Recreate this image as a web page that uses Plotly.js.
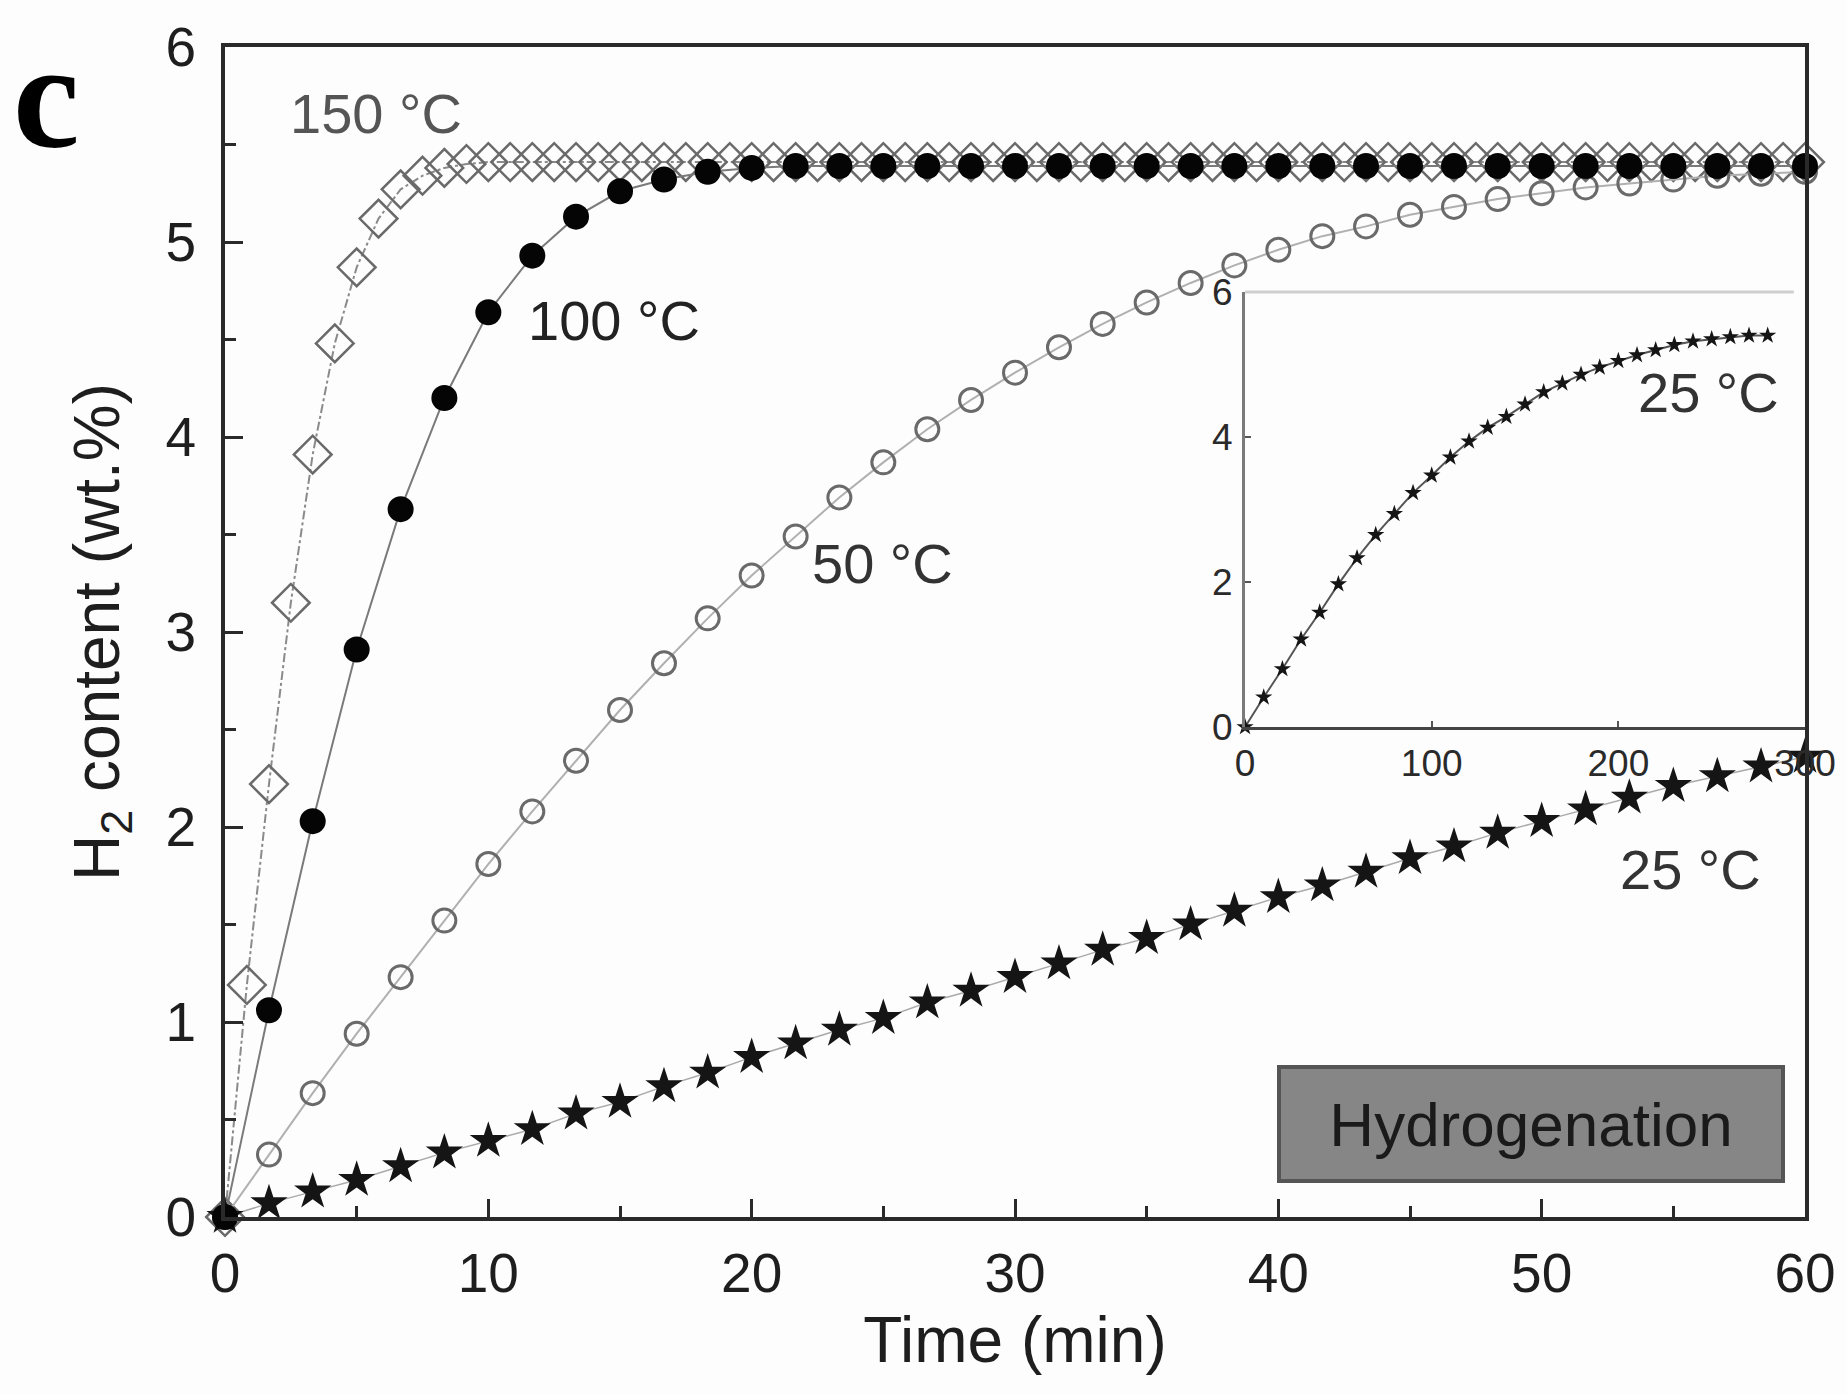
<!DOCTYPE html>
<html>
<head>
<meta charset="utf-8">
<script src="https://cdn.plot.ly/plotly-3.0.1.min.js"></script>
<style>html,body{margin:0;padding:0;background:#fdfdfd;}</style>
</head>
<body>
<div id="chart" style="width:1847px;height:1394px;"></div>
<script>
// Time axis (min) for the 150 °C run (sampled every ~50 s)
const time150 = [0,0.83,1.67,2.5,3.33,4.17,5,5.83,6.67,7.5,8.33,9.17,10,10.83,11.67,12.5,13.33,14.17,15,15.83,16.67,17.5,18.33,19.17,20,20.83,21.67,22.5,23.33,24.17,25,25.83,26.67,27.5,28.33,29.17,30,30.83,31.67,32.5,33.33,34.17,35,35.83,36.67,37.5,38.33,39.17,40,40.83,41.67,42.5,43.33,44.17,45,45.83,46.67,47.5,48.33,49.17,50,50.83,51.67,52.5,53.33,54.17,55,55.83,56.67,57.5,58.33,59.17,60];
const h2_150C = [0,1.19,2.22,3.15,3.91,4.48,4.87,5.12,5.27,5.34,5.38,5.40,5.41,5.41,5.41,5.41,5.41,5.41,5.41,5.41,5.41,5.41,5.41,5.41,5.41,5.41,5.41,5.41,5.41,5.41,5.41,5.41,5.41,5.41,5.41,5.41,5.41,5.41,5.41,5.41,5.41,5.41,5.41,5.41,5.41,5.41,5.41,5.41,5.41,5.41,5.41,5.41,5.41,5.41,5.41,5.41,5.41,5.41,5.41,5.41,5.41,5.41,5.41,5.41,5.41,5.41,5.41,5.41,5.41,5.41,5.41,5.41,5.41];

// Time axis (min) for the 100, 50 and 25 °C runs (sampled every ~100 s)
const timeMain = [0,1.67,3.33,5,6.67,8.33,10,11.67,13.33,15,16.67,18.33,20,21.67,23.33,25,26.67,28.33,30,31.67,33.33,35,36.67,38.33,40,41.67,43.33,45,46.67,48.33,50,51.67,53.33,55,56.67,58.33,60];
const h2_100C = [0,1.06,2.03,2.91,3.63,4.20,4.64,4.93,5.13,5.26,5.32,5.36,5.38,5.39,5.39,5.39,5.39,5.39,5.39,5.39,5.39,5.39,5.39,5.39,5.39,5.39,5.39,5.39,5.39,5.39,5.39,5.39,5.39,5.39,5.39,5.39,5.39];
const h2_50C = [0,0.32,0.635,0.94,1.23,1.52,1.81,2.08,2.34,2.60,2.84,3.07,3.29,3.49,3.69,3.87,4.04,4.19,4.33,4.46,4.58,4.69,4.79,4.88,4.96,5.03,5.08,5.14,5.18,5.22,5.25,5.28,5.30,5.32,5.34,5.35,5.36];
const h2_25C = [0,0.07,0.13,0.19,0.26,0.33,0.39,0.45,0.53,0.59,0.67,0.74,0.82,0.89,0.96,1.02,1.10,1.16,1.23,1.30,1.37,1.43,1.50,1.57,1.64,1.70,1.77,1.84,1.90,1.97,2.03,2.09,2.15,2.21,2.26,2.31,2.36];

// Inset: 25 °C over 300 min
const timeInset = [0,10,20,30,40,50,60,70,80,90,100,110,120,130,140,150,160,170,180,190,200,210,220,230,240,250,260,270,280];
const h2_25C_long = [0,0.41,0.80,1.21,1.58,1.97,2.33,2.65,2.94,3.23,3.47,3.72,3.94,4.13,4.28,4.45,4.62,4.74,4.86,4.96,5.05,5.13,5.20,5.27,5.32,5.35,5.38,5.40,5.40];

// Text
const curveLabels = ['150 °C','100 °C','50 °C','25 °C'];
const xTitle = 'Time (min)';
const yTitle = 'H<sub>2</sub> content (wt.%)';
const panelLabel = 'c';
const boxLabel = 'Hydrogenation';

const FONT = 'Liberation Sans, Arial, Helvetica, sans-serif';
const AX = '#2a2a2a';

const traces = [
  {x: time150, y: h2_150C, type:'scatter', mode:'lines+markers', cliponaxis:false,
   line:{color:'#8a8a8a', width:2, dash:'dashdot'},
   marker:{symbol:'diamond-open', size:29, color:'#6a6a6a', line:{width:2.5, color:'#6a6a6a'}}},
  {x: timeMain, y: h2_50C, type:'scatter', mode:'lines+markers', cliponaxis:false,
   line:{color:'#b0b0b0', width:2},
   marker:{symbol:'circle-open', size:23, color:'#6a6a6a', line:{width:3, color:'#6a6a6a'}}},
  {x: timeMain, y: h2_25C, type:'scatter', mode:'lines+markers', cliponaxis:false,
   line:{color:'#aaaaaa', width:1.5},
   marker:{symbol:'star', size:28, color:'#151515', line:{width:0}}},
  {x: timeMain, y: h2_100C, type:'scatter', mode:'lines+markers', cliponaxis:false,
   line:{color:'#7a7a7a', width:2},
   marker:{symbol:'circle', size:26, color:'#050505', line:{width:0}}},
  {x: timeInset, y: h2_25C_long, xaxis:'x2', yaxis:'y2', type:'scatter', mode:'lines+markers', cliponaxis:false,
   line:{color:'#555', width:2},
   marker:{symbol:'star', size:13, color:'#151515', line:{width:0}}}
];

const layout = {
  width:1847, height:1394,
  margin:{l:225, r:42, t:47, b:177},
  paper_bgcolor:'#fdfdfd', plot_bgcolor:'rgba(0,0,0,0)',
  showlegend:false,
  font:{family:FONT, color:'#222'},
  xaxis:{
    domain:[0,1], anchor:'y', range:[0,60], tickmode:'linear', tick0:0, dtick:10,
    ticks:'inside', ticklen:18, tickwidth:3, tickcolor:AX,
    showline:true, linewidth:4, linecolor:AX, mirror:true,
    showgrid:false, zeroline:false,
    tickfont:{size:55, color:'#1e1e1e', family:FONT}, ticklabelstandoff:5,
    minor:{tickmode:'linear', dtick:5, ticks:'inside', ticklen:11, tickwidth:3, tickcolor:AX, showgrid:false},
    title:{text:xTitle, font:{size:64, color:'#1e1e1e', family:FONT}, standoff:14}
  },
  yaxis:{
    domain:[0,1], anchor:'x', range:[0,6], tickmode:'linear', tick0:0, dtick:1,
    ticks:'inside', ticklen:18, tickwidth:3, tickcolor:AX,
    showline:true, linewidth:4, linecolor:AX, mirror:true,
    showgrid:false, zeroline:false,
    tickfont:{size:55, color:'#1e1e1e', family:FONT}, ticklabelstandoff:14,
    minor:{tickmode:'linear', dtick:0.5, ticks:'inside', ticklen:11, tickwidth:3, tickcolor:AX, showgrid:false},
    title:{text:yTitle, font:{size:64, color:'#1e1e1e', family:FONT}, standoff:26}
  },
  xaxis2:{
    domain:[0.6456,1], anchor:'y2', range:[0,300], tickmode:'linear', tick0:0, dtick:100,
    ticks:'inside', ticklen:6, tickwidth:2, tickcolor:'#555',
    showline:true, linewidth:3, linecolor:'#444', mirror:false,
    showgrid:false, zeroline:false,
    tickfont:{size:37, color:'#2a2a2a', family:FONT}, ticklabelstandoff:2
  },
  yaxis2:{
    domain:[0.4188,0.7906], anchor:'x2', range:[0,6], tickmode:'linear', tick0:0, dtick:2,
    ticks:'inside', ticklen:6, tickwidth:2, tickcolor:'#555',
    showline:true, linewidth:3, linecolor:'#7a7a7a', mirror:false,
    showgrid:false, zeroline:false,
    tickfont:{size:37, color:'#2a2a2a', family:FONT}, ticklabelstandoff:2
  },
  shapes:[
    {type:'line', xref:'x2 domain', yref:'y2 domain', x0:0, x1:0.98, y0:1, y1:1,
     line:{color:'#cfcfcf', width:3}}
  ],
  annotations:[
    {text:curveLabels[0], x:5.73, y:5.66, xref:'x', yref:'y', xanchor:'center', yanchor:'middle', showarrow:false,
     font:{size:56, color:'#555', family:FONT}},
    {text:curveLabels[1], x:14.77, y:4.60, xref:'x', yref:'y', xanchor:'center', yanchor:'middle', showarrow:false,
     font:{size:56, color:'#222', family:FONT}},
    {text:curveLabels[2], x:24.95, y:3.35, xref:'x', yref:'y', xanchor:'center', yanchor:'middle', showarrow:false,
     font:{size:56, color:'#333', family:FONT}},
    {text:curveLabels[3], x:55.64, y:1.78, xref:'x', yref:'y', xanchor:'center', yanchor:'middle', showarrow:false,
     font:{size:56, color:'#333', family:FONT}},
    {text:curveLabels[3], x:0.9392, y:0.7051, xref:'paper', yref:'paper', xanchor:'center', yanchor:'middle', showarrow:false,
     font:{size:56, color:'#333', family:FONT}},
    {text:'<b>'+panelLabel+'</b>', x:-0.1127, y:0.958, xref:'paper', yref:'paper', xanchor:'center', yanchor:'middle', showarrow:false,
     font:{size:150, color:'#000', family:'Liberation Serif, Times New Roman, serif'}},
    {text:boxLabel, x:0.8266, y:0.0795, xref:'paper', yref:'paper', xanchor:'center', yanchor:'middle', showarrow:false,
     width:500, height:110, borderpad:0, bgcolor:'#868686', bordercolor:'#555555', borderwidth:4,
     font:{size:62, color:'#1a1a1a', family:FONT}}
  ]
};

Plotly.newPlot('chart', traces, layout, {displayModeBar:false, staticPlot:true});
</script>
</body>
</html>
